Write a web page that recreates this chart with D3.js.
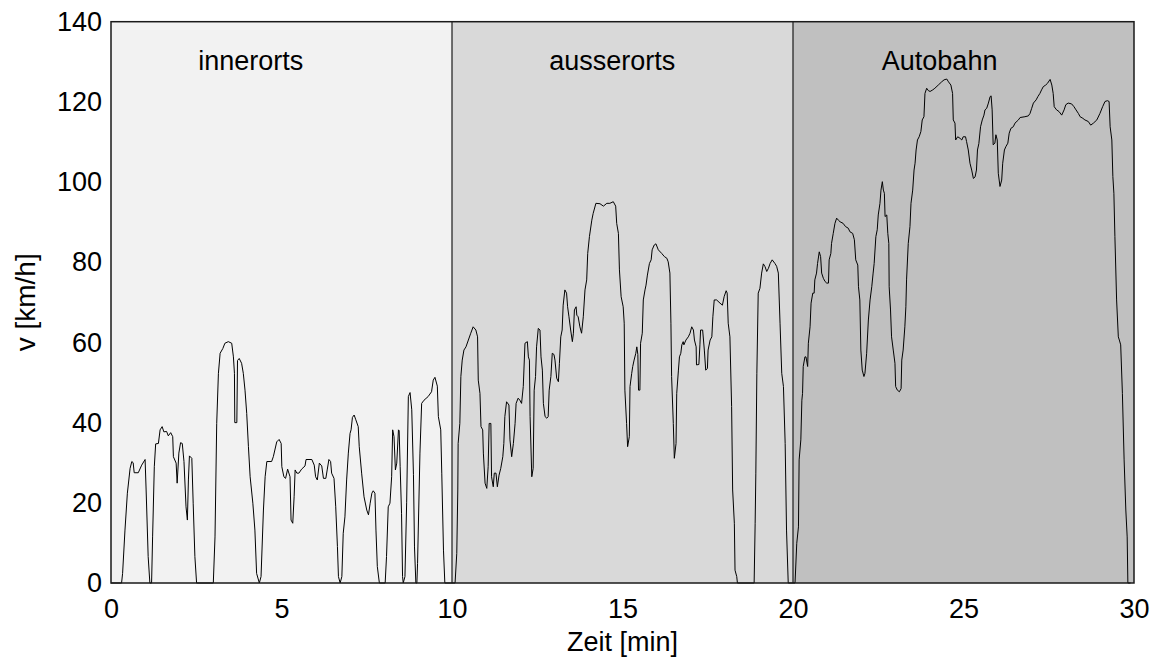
<!DOCTYPE html>
<html>
<head>
<meta charset="utf-8">
<script src="https://cdn.jsdelivr.net/npm/d3@7"></script>
<style>
  html, body { margin: 0; padding: 0; background: #ffffff; }
  svg { display: block; font-family: "Liberation Sans", Arial, sans-serif; }
</style>
</head>
<body>
<svg id="chart" width="1161" height="661"></svg>
<script>
// Driving cycle: time [min] and speed [km/h]
const timeMin = [
  0.00, 0.31, 0.34, 0.41, 0.48, 0.56, 0.61, 0.65, 0.68, 0.80, 0.90, 1.00, 1.03, 1.09, 1.14, 1.19,
  1.22, 1.27, 1.31, 1.39, 1.44, 1.50, 1.55, 1.63, 1.68, 1.75, 1.81, 1.83, 1.91, 1.94, 1.99, 2.04,
  2.09, 2.14, 2.20, 2.24, 2.27, 2.30, 2.37, 2.41, 2.46, 2.51, 3.00, 3.05, 3.10, 3.15, 3.20, 3.28,
  3.34, 3.44, 3.54, 3.59, 3.62, 3.63, 3.69, 3.71, 3.76, 3.83, 3.88, 3.93, 3.98, 4.03, 4.08, 4.16,
  4.22, 4.27, 4.35, 4.40, 4.47, 4.52, 4.57, 4.71, 4.76, 4.86, 4.93, 4.99, 5.01, 5.07, 5.12, 5.18,
  5.25, 5.28, 5.33, 5.37, 5.40, 5.45, 5.51, 5.59, 5.69, 5.72, 5.89, 5.96, 6.00, 6.05, 6.11, 6.18,
  6.23, 6.30, 6.34, 6.39, 6.44, 6.47, 6.54, 6.59, 6.64, 6.67, 6.72, 6.77, 6.81, 6.86, 6.91, 6.96,
  7.01, 7.04, 7.08, 7.13, 7.18, 7.25, 7.28, 7.35, 7.42, 7.50, 7.55, 7.60, 7.65, 7.69, 7.74, 7.77,
  7.81, 7.87, 8.04, 8.08, 8.13, 8.18, 8.23, 8.26, 8.30, 8.34, 8.38, 8.43, 8.45, 8.48, 8.52, 8.55,
  8.57, 8.62, 8.67, 8.72, 8.77, 8.82, 8.87, 8.90, 8.94, 8.97, 8.99, 9.06, 9.11, 9.18, 9.30, 9.40,
  9.45, 9.50, 9.57, 9.60, 9.67, 9.70, 9.75, 9.79, 10.09, 10.14, 10.17, 10.18, 10.23, 10.26, 10.30, 10.35,
  10.41, 10.48, 10.55, 10.62, 10.70, 10.75, 10.77, 10.82, 10.85, 10.90, 10.92, 10.97, 11.02, 11.06, 11.09, 11.14,
  11.16, 11.21, 11.24, 11.29, 11.33, 11.38, 11.43, 11.49, 11.52, 11.55, 11.60, 11.67, 11.70, 11.75, 11.80, 11.85,
  11.88, 11.94, 11.99, 12.04, 12.09, 12.14, 12.21, 12.24, 12.27, 12.29, 12.34, 12.38, 12.41, 12.45, 12.48, 12.53,
  12.58, 12.61, 12.65, 12.68, 12.73, 12.78, 12.82, 12.85, 12.90, 12.94, 12.99, 13.02, 13.07, 13.12, 13.15, 13.19,
  13.23, 13.26, 13.31, 13.36, 13.39, 13.43, 13.48, 13.53, 13.56, 13.59, 13.64, 13.66, 13.70, 13.75, 13.80, 13.85,
  13.90, 13.95, 13.98, 14.03, 14.10, 14.14, 14.22, 14.34, 14.44, 14.54, 14.63, 14.73, 14.80, 14.83, 14.88, 14.91,
  14.96, 15.02, 15.05, 15.07, 15.12, 15.15, 15.20, 15.22, 15.27, 15.30, 15.34, 15.39, 15.42, 15.45, 15.47, 15.51,
  15.53, 15.58, 15.61, 15.66, 15.69, 15.73, 15.79, 15.84, 15.87, 15.93, 15.98, 16.05, 16.15, 16.23, 16.30, 16.34,
  16.39, 16.42, 16.44, 16.49, 16.52, 16.57, 16.59, 16.64, 16.67, 16.71, 16.74, 16.78, 16.80, 16.86, 16.93, 16.98,
  17.03, 17.08, 17.11, 17.16, 17.17, 17.24, 17.27, 17.29, 17.35, 17.40, 17.44, 17.49, 17.51, 17.57, 17.62, 17.65,
  17.69, 17.76, 17.86, 17.93, 17.98, 18.04, 18.07, 18.10, 18.15, 18.20, 18.23, 18.28, 18.30, 18.35, 18.37, 18.86,
  18.89, 18.91, 18.94, 18.98, 19.03, 19.08, 19.13, 19.18, 19.23, 19.28, 19.33, 19.39, 19.47, 19.52, 19.57, 19.62,
  19.67, 19.72, 19.77, 19.81, 19.86, 20.06, 20.11, 20.16, 20.18, 20.23, 20.26, 20.28, 20.30, 20.35, 20.38, 20.43,
  20.45, 20.50, 20.53, 20.58, 20.62, 20.64, 20.69, 20.72, 20.77, 20.81, 20.84, 20.89, 20.94, 20.99, 21.04, 21.06,
  21.11, 21.13, 21.18, 21.23, 21.28, 21.33, 21.38, 21.47, 21.54, 21.62, 21.67, 21.75, 21.80, 21.84, 21.90, 21.92,
  21.96, 21.99, 22.03, 22.08, 22.11, 22.16, 22.21, 22.26, 22.31, 22.35, 22.38, 22.43, 22.47, 22.50, 22.55, 22.58,
  22.62, 22.65, 22.68, 22.70, 22.75, 22.78, 22.81, 22.82, 22.86, 22.89, 22.94, 22.99, 23.01, 23.06, 23.12, 23.17,
  23.19, 23.23, 23.28, 23.31, 23.33, 23.38, 23.43, 23.46, 23.51, 23.55, 23.58, 23.61, 23.65, 23.70, 23.75, 23.79,
  23.84, 23.87, 23.92, 23.97, 24.02, 24.10, 24.16, 24.26, 24.36, 24.43, 24.51, 24.56, 24.63, 24.68, 24.70, 24.75,
  24.77, 24.83, 24.90, 24.95, 24.99, 25.06, 25.09, 25.14, 25.19, 25.24, 25.29, 25.34, 25.38, 25.41, 25.45, 25.50,
  25.55, 25.60, 25.63, 25.68, 25.73, 25.78, 25.81, 25.84, 25.87, 25.92, 25.95, 25.99, 26.02, 26.07, 26.12, 26.15,
  26.20, 26.24, 26.30, 26.34, 26.39, 26.46, 26.51, 26.61, 26.66, 26.80, 26.90, 26.95, 27.00, 27.05, 27.13, 27.18,
  27.24, 27.29, 27.34, 27.41, 27.46, 27.54, 27.59, 27.63, 27.66, 27.73, 27.80, 27.88, 27.95, 28.00, 28.07, 28.17,
  28.24, 28.30, 28.37, 28.42, 28.50, 28.56, 28.66, 28.73, 28.81, 28.91, 29.00, 29.08, 29.15, 29.22, 29.27, 29.30,
  29.35, 29.38, 29.41, 29.44, 29.49, 29.54, 29.57, 29.61, 29.66, 29.71, 29.76, 29.80, 29.82, 29.90
];
const speedKmh = [
  0, 0, 2.4, 13.2, 22.4, 28.6, 30.3, 30.0, 27.5, 27.5, 29.4, 30.8, 23.2, 6.6, 0, 0,
  11.5, 29.0, 34.7, 34.8, 38.2, 39.0, 37.7, 37.8, 36.7, 37.5, 36.5, 31.5, 29.9, 24.9, 32.4, 35.0,
  34.8, 30.3, 19.0, 15.7, 25.7, 31.7, 31.1, 19.9, 6.6, 0, 0, 11.5, 39.8, 52.3, 57.3, 58.5,
  59.8, 60.2, 59.8, 56.4, 52.3, 40.0, 40.0, 55.5, 56.0, 54.8, 52.3, 48.1, 42.3, 34.0, 26.5, 19.9,
  13.2, 2.4, 0, 1.6, 18.2, 26.5, 30.3, 30.3, 31.5, 35.2, 35.8, 34.8, 29.0, 26.5, 26.1, 28.4,
  26.5, 15.7, 14.9, 21.5, 28.2, 27.4, 27.4, 28.4, 29.2, 30.8, 30.8, 29.4, 26.5, 25.7, 29.9, 29.2,
  26.1, 26.1, 28.2, 30.8, 30.3, 27.4, 26.1, 19.0, 9.1, 1.6, 0, 1.6, 12.4, 16.5, 25.7, 32.4,
  37.3, 38.2, 41.3, 41.9, 40.7, 39.0, 34.0, 27.4, 21.5, 18.2, 17.0, 19.9, 22.4, 23.0, 22.4, 13.2,
  4.1, 0, 0, 6.6, 19.0, 19.9, 26.5, 38.2, 36.5, 28.2, 29.9, 38.2, 38.0, 29.0, 17.4, 1.6,
  0, 1.6, 20.0, 46.5, 47.5, 43.2, 27.0, 9.0, 0, 0, 4.9, 32.4, 44.8, 45.6, 46.5, 47.7,
  50.6, 51.3, 49.1, 41.5, 38.2, 27.4, 8.2, 0, 0, 7.4, 23.2, 34.8, 39.8, 51.5, 55.6, 58.1,
  58.9, 60.6, 62.3, 63.9, 63.1, 61.4, 50.6, 47.3, 39.0, 38.2, 32.4, 24.9, 23.6, 29.0, 39.8, 39.8,
  26.5, 24.0, 27.4, 27.4, 24.0, 26.9, 28.6, 31.5, 34.8, 41.5, 45.2, 44.4, 35.7, 31.5, 34.8, 39.8,
  44.8, 46.1, 45.6, 44.8, 49.0, 59.8, 60.2, 56.4, 55.6, 41.5, 26.5, 28.6, 48.1, 51.5, 58.9, 63.5,
  63.1, 56.4, 53.1, 44.8, 41.5, 41.1, 41.5, 48.1, 51.5, 57.3, 57.0, 55.6, 51.1, 50.2, 54.8, 61.4,
  63.1, 69.3, 73.1, 72.3, 68.9, 66.4, 63.1, 60.2, 62.3, 68.1, 68.9, 66.8, 66.4, 63.9, 62.3, 66.4,
  73.1, 75.6, 82.2, 86.4, 90.5, 92.2, 94.7, 94.6, 94.0, 94.7, 94.7, 95.1, 94.0, 89.7, 87.2, 78.1,
  71.4, 68.9, 64.8, 48.1, 39.8, 34.0, 36.5, 49.0, 52.3, 54.0, 55.6, 57.3, 58.9, 57.0, 48.1, 48.1,
  59.8, 62.3, 70.6, 73.1, 74.3, 76.8, 79.7, 80.6, 83.1, 84.3, 84.6, 83.1, 82.2, 81.4, 81.0, 80.1,
  77.3, 64.8, 51.5, 39.8, 31.1, 34.8, 47.3, 53.1, 56.4, 57.3, 59.4, 60.2, 59.4, 60.6, 61.4, 62.3,
  63.9, 63.1, 60.6, 58.9, 54.4, 54.5, 59.4, 63.1, 63.1, 58.1, 53.1, 53.5, 58.1, 60.6, 61.4, 66.4,
  70.6, 70.6, 69.8, 69.3, 71.4, 72.9, 72.3, 64.8, 61.4, 44.0, 23.2, 14.9, 3.2, 1.6, 0, 0,
  14.9, 27.4, 52.3, 72.3, 73.5, 77.3, 79.6, 78.9, 77.7, 78.5, 79.7, 80.6, 79.7, 79.0, 77.3, 64.8,
  52.3, 49.0, 34.8, 13.2, 0, 0, 9.9, 14.0, 30.7, 35.7, 45.6, 47.3, 54.0, 56.4, 56.4, 54.0,
  59.8, 63.9, 69.8, 72.3, 72.3, 75.6, 77.3, 79.7, 82.6, 81.4, 77.3, 76.0, 75.2, 74.8, 74.8, 80.6,
  82.2, 84.7, 87.2, 89.7, 91.0, 90.5, 90.1, 89.7, 88.9, 88.5, 87.6, 87.2, 85.6, 80.6, 79.3, 73.9,
  70.6, 58.1, 53.1, 51.5, 52.3, 57.3, 65.6, 70.6, 73.9, 77.3, 79.7, 86.4, 88.1, 91.8, 94.7, 98.0,
  100.1, 98.0, 97.2, 91.4, 91.8, 87.2, 84.7, 73.9, 68.1, 61.4, 58.1, 54.8, 49.0, 48.1, 47.7, 48.5,
  55.6, 58.1, 63.9, 68.9, 75.6, 84.7, 88.9, 94.7, 98.0, 103.0, 104.7, 108.0, 110.5, 111.3, 112.6, 115.5,
  116.3, 122.1, 123.4, 122.8, 122.6, 123.0, 123.4, 124.2, 125.0, 125.5, 125.7, 125.0, 124.2, 122.1, 115.5, 114.7,
  110.5, 111.3, 110.9, 110.5, 111.3, 111.3, 110.1, 108.0, 104.7, 103.0, 100.9, 101.3, 103.0, 108.0, 109.6, 113.8,
  115.5, 116.7, 118.0, 118.4, 119.7, 121.3, 121.5, 118.0, 109.3, 109.7, 111.8, 110.5, 102.2, 98.9, 100.5, 104.7,
  108.0, 108.8, 109.7, 112.2, 113.4, 113.8, 114.7, 115.5, 116.1, 116.3, 116.5, 117.1, 118.4, 119.7, 120.5, 121.3,
  122.1, 123.0, 123.8, 124.2, 124.6, 125.6, 124.2, 122.1, 118.8, 118.0, 117.6, 116.7, 118.0, 119.3, 119.7, 119.5,
  118.8, 118.0, 117.1, 116.3, 115.9, 115.5, 115.1, 114.2, 114.7, 115.5, 117.1, 118.8, 120.1, 120.3, 120.1, 113.8,
  110.5, 101.4, 97.2, 86.4, 70.6, 61.4, 60.6, 59.4, 47.3, 30.7, 18.2, 11.5, 0, 0
];

// Route sections (start / end in minutes) and their names
const sectionNames = ["innerorts", "ausserorts", "Autobahn"];
const sectionStart = [0, 10, 20];
const sectionEnd = [10, 20, 30];
const sectionLabelAt = [4.1, 14.7, 24.3];
const sectionLabelSpeed = 128;

// Axis ticks
const xTicks = [0, 5, 10, 15, 20, 25, 30];
const yTicks = [0, 20, 40, 60, 80, 100, 120, 140];

const sectionFill = ["#f2f2f2", "#d9d9d9", "#c0c0c0"];

const svg = d3.select("#chart");
const plot = { left: 111, right: 1134, top: 21.7, bottom: 583 };

const x = d3.scaleLinear().domain([0, 30]).range([plot.left, plot.right]);
const y = d3.scaleLinear().domain([0, 140]).range([plot.bottom, plot.top]);

// Section backgrounds
svg.append("g").selectAll("rect")
  .data(sectionNames)
  .join("rect")
  .attr("x", (d, i) => x(sectionStart[i]))
  .attr("y", y(140))
  .attr("width", (d, i) => x(sectionEnd[i]) - x(sectionStart[i]))
  .attr("height", y(0) - y(140))
  .attr("fill", (d, i) => sectionFill[i]);

// Section separators
svg.append("g").selectAll("line")
  .data(sectionStart.slice(1))
  .join("line")
  .attr("x1", d => x(d)).attr("x2", d => x(d))
  .attr("y1", y(140)).attr("y2", y(0))
  .attr("stroke", "#1a1a1a")
  .attr("stroke-width", 1.2);

// Section names
svg.append("g").selectAll("text")
  .data(sectionNames)
  .join("text")
  .attr("x", (d, i) => x(sectionLabelAt[i]))
  .attr("y", y(sectionLabelSpeed))
  .attr("text-anchor", "middle")
  .attr("font-size", 27)
  .attr("fill", "#000")
  .text(d => d);

// Speed trace
const line = d3.line()
  .x(d => x(d[0]))
  .y(d => y(d[1]));

svg.append("path")
  .datum(timeMin.map((t, i) => [t, speedKmh[i]]))
  .attr("d", line)
  .attr("fill", "none")
  .attr("stroke", "#000")
  .attr("stroke-width", 1)
  .attr("stroke-linejoin", "round");

// Plot frame
svg.append("rect")
  .attr("x", plot.left)
  .attr("y", plot.top)
  .attr("width", plot.right - plot.left)
  .attr("height", plot.bottom - plot.top)
  .attr("fill", "none")
  .attr("stroke", "#1a1a1a")
  .attr("stroke-width", 1.5);

// Axes (labels only, no tick marks)
const xAxis = d3.axisBottom(x).tickValues(xTicks).tickSize(0).tickPadding(16).tickFormat(d3.format("d"));
const gx = svg.append("g").attr("transform", `translate(0,${plot.bottom})`).call(xAxis);
gx.select(".domain").remove();
gx.selectAll("text").attr("font-size", 27).attr("font-family", "Liberation Sans, Arial, sans-serif").attr("fill", "#000");

const yAxis = d3.axisLeft(y).tickValues(yTicks).tickSize(0).tickPadding(9).tickFormat(d3.format("d"));
const gy = svg.append("g").attr("transform", `translate(${plot.left},0)`).call(yAxis);
gy.select(".domain").remove();
gy.selectAll("text").attr("font-size", 27).attr("font-family", "Liberation Sans, Arial, sans-serif").attr("fill", "#000");

// Axis titles
svg.append("text")
  .attr("x", (plot.left + plot.right) / 2)
  .attr("y", 651)
  .attr("text-anchor", "middle")
  .attr("font-size", 27)
  .text("Zeit [min]");

svg.append("text")
  .attr("transform", `translate(35,${(plot.top + plot.bottom) / 2}) rotate(-90)`)
  .attr("text-anchor", "middle")
  .attr("font-size", 28)
  .text("v [km/h]");
</script>
</body>
</html>
